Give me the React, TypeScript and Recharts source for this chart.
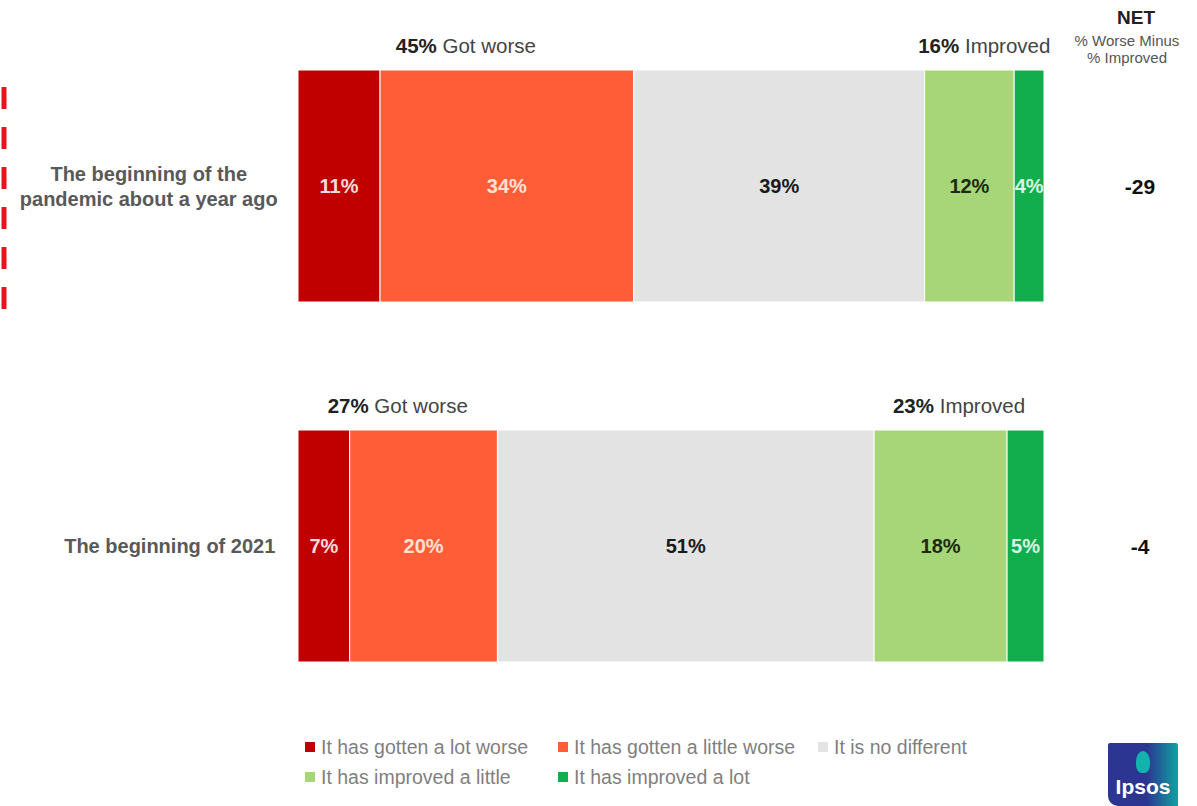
import { BarChart, Bar, XAxis, YAxis, LabelList, Legend } from 'recharts';

const categories = ['The beginning of the\npandemic about a year ago', 'The beginning of 2021'];
const lotWorse = [11, 7];
const littleWorse = [34, 20];
const noDifferent = [39, 51];
const improvedLittle = [12, 18];
const improvedLot = [4, 5];
const netValues = [-29, -4];

const FONT = '"Liberation Sans", Arial, sans-serif';

const series = [
  { key: 'lotWorse', name: 'It has gotten a lot worse', fill: '#C00000', text: '#F6DCDC' },
  { key: 'littleWorse', name: 'It has gotten a little worse', fill: '#FF5D38', text: '#FFE2D4' },
  { key: 'noDifferent', name: 'It is no different', fill: '#E3E3E3', text: '#1A1A1A' },
  { key: 'improvedLittle', name: 'It has improved a little', fill: '#A7D679', text: '#1B2A10' },
  { key: 'improvedLot', name: 'It has improved a lot', fill: '#12AE4E', text: '#D8F6E0' },
];

const data = categories.map((label, i) => ({
  label,
  lotWorse: lotWorse[i],
  littleWorse: littleWorse[i],
  noDifferent: noDifferent[i],
  improvedLittle: improvedLittle[i],
  improvedLot: improvedLot[i],
  net: netValues[i],
}));

const CategoryTick = ({ y, payload }: any) => {
  const lines: string[] = String(payload.value).split('\n');
  const longest = Math.max(...lines.map((l) => l.length));
  const cx = 280 - longest * 5.25;
  return (
    <g>
      {lines.map((line, i) => (
        <text
          key={i}
          x={cx}
          y={y + (i - (lines.length - 1) / 2) * 25}
          textAnchor="middle"
          dominantBaseline="central"
          fontFamily={FONT}
          fontSize={20}
          fontWeight="bold"
          fill="#595959"
        >
          {line}
        </text>
      ))}
    </g>
  );
};

// "xx% Got worse" centred over the two worse segments, kept inside the bar start
const WorseLabel = (props: any) => {
  const { index } = props;
  const x = Number(props.x);
  const y = Number(props.y);
  const width = Number(props.width);
  const ppu = width / littleWorse[index];
  const x0 = x - lotWorse[index] * ppu;
  const total = lotWorse[index] + littleWorse[index];
  const cx = Math.max(x0 + (total * ppu) / 2, x0 + 85);
  return (
    <text x={cx} y={y - 25} textAnchor="middle" dominantBaseline="central" fontFamily={FONT} fontSize={20.5} fill="#444">
      <tspan fontWeight="bold" fill="#222">{total}%</tspan> Got worse
    </text>
  );
};

const ImprovedLabel = (props: any) => {
  const { index } = props;
  const x = Number(props.x);
  const y = Number(props.y);
  const width = Number(props.width);
  const ppu = width / improvedLittle[index];
  const total = improvedLittle[index] + improvedLot[index];
  const cx = x + (total * ppu) / 2;
  return (
    <text x={cx} y={y - 25} textAnchor="middle" dominantBaseline="central" fontFamily={FONT} fontSize={20.5} fill="#444">
      <tspan fontWeight="bold" fill="#222">{total}%</tspan> Improved
    </text>
  );
};

const NetLabel = (props: any) => {
  const { index } = props;
  const x = Number(props.x);
  const y = Number(props.y);
  const width = Number(props.width);
  const height = Number(props.height);
  return (
    <text
      x={x + width + 96}
      y={y + height / 2}
      textAnchor="middle"
      dominantBaseline="central"
      fontFamily={FONT}
      fontSize={21}
      fontWeight="bold"
      fill="#111"
    >
      {netValues[index]}
    </text>
  );
};

const order = series.map((s) => s.name);

const renderLegend = ({ payload }: any) => {
  const items = [...(payload || [])].sort((a: any, b: any) => order.indexOf(a.value) - order.indexOf(b.value));
  return (
    <div
      style={{
        display: 'grid',
        gridTemplateColumns: '253px 260px 220px',
        rowGap: 12,
        fontFamily: FONT,
        fontSize: 19.5,
        color: '#7F7F7F',
        lineHeight: '18px',
      }}
    >
      {items.map((entry: any) => (
        <div key={entry.value} style={{ display: 'flex', alignItems: 'center', whiteSpace: 'nowrap' }}>
          <span style={{ width: 10, height: 10, background: entry.color, marginRight: 6, display: 'inline-block' }} />
          {entry.value}
        </div>
      ))}
    </div>
  );
};

export default function App() {
  return (
    <div style={{ position: 'absolute', left: 0, top: 0, width: 1197, height: 806, background: '#fff', overflow: 'hidden' }}>
      <BarChart
        width={1197}
        height={806}
        data={data}
        layout="vertical"
        stackOffset="expand"
        margin={{ top: 6, right: 153, bottom: 18, left: 0 }}
        barSize={232}
      >
        <XAxis type="number" hide />
        <YAxis type="category" dataKey="label" width={298} axisLine={false} tickLine={false} tick={<CategoryTick />} />
        {series.map((s) => (
          <Bar
            key={s.key}
            dataKey={s.key}
            name={s.name}
            stackId="a"
            fill={s.fill}
            stroke="#fff"
            strokeWidth={1}
            isAnimationActive={false}
          >
            <LabelList
              dataKey={s.key}
              position="center"
              formatter={(v: any) => `${v}%`}
              fill={s.text}
              fontFamily={FONT}
              fontSize={20}
              fontWeight="bold"
            />
            {s.key === 'littleWorse' && <LabelList dataKey={s.key} content={<WorseLabel />} />}
            {s.key === 'improvedLittle' && <LabelList dataKey={s.key} content={<ImprovedLabel />} />}
            {s.key === 'improvedLot' && <LabelList dataKey={s.key} content={<NetLabel />} />}
          </Bar>
        ))}
        <Legend
          verticalAlign="bottom"
          content={renderLegend}
          wrapperStyle={{ left: 305, bottom: 6, width: 760, height: 62 }}
        />
      </BarChart>

      {/* NET header */}
      <div style={{ position: 'absolute', left: 1058, top: 4, width: 140, textAlign: 'center', fontFamily: FONT, color: '#222' }}>
        <div style={{ fontSize: 19, fontWeight: 'bold', lineHeight: '28px', marginLeft: 16 }}>NET</div>
        <div style={{ fontSize: 15, lineHeight: '17px', color: '#555', marginLeft: -2 }}>% Worse Minus</div>
        <div style={{ fontSize: 15, lineHeight: '17px', color: '#555', marginLeft: -2 }}>% Improved</div>
      </div>

      {/* red dashed marker */}
      <svg style={{ position: 'absolute', left: 0, top: 0 }} width={12} height={320}>
        <line x1={4} y1={87} x2={4} y2={309} stroke="#E8141B" strokeWidth={5} strokeDasharray="22 18" />
      </svg>

      {/* Ipsos logo */}
      <div
        style={{
          position: 'absolute',
          left: 1108,
          top: 743,
          width: 70,
          height: 63,
          background: 'linear-gradient(90deg, #2C3592 0%, #2C3592 55%, #0FA3A0 100%)',
          borderRadius: '2px 2px 0 10px',
          fontFamily: FONT,
          color: '#fff',
          fontWeight: 'bold',
          fontSize: 21,
          textAlign: 'center',
        }}
      >
        <div style={{ width: 14, height: 22, background: '#12B3AE', borderRadius: '50% 50% 40% 40%', margin: '8px auto 2px' }} />
        Ipsos
      </div>
    </div>
  );
}
